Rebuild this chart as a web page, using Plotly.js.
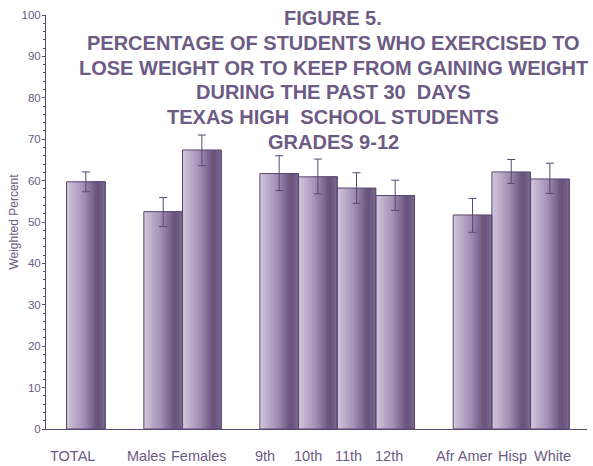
<!DOCTYPE html>
<html>
<head>
<meta charset="utf-8">
<script src="https://cdn.plot.ly/plotly-3.0.1.min.js"></script>
<style>html,body{margin:0;padding:0;background:#fff;}#chart{width:593px;height:466px;}</style>
</head>
<body>
<div id="chart"></div>
<script>
// ---- data ----
const categories = ["TOTAL", "Males", "Females", "9th", "10th", "11th", "12th", "Afr Amer", "Hisp", "White"];
const weightedPercent = [59.7, 52.5, 67.4, 61.7, 60.9, 58.2, 56.4, 51.7, 62.1, 60.4];
const errorPlus = [2.4, 3.4, 3.6, 4.3, 4.3, 3.7, 3.7, 4.0, 3.0, 3.8];
const errorMinus = [2.4, 3.6, 3.8, 4.1, 4.1, 3.7, 3.6, 4.2, 2.8, 3.5];
const titleLines = [
  "FIGURE 5.",
  "PERCENTAGE OF STUDENTS WHO EXERCISED TO",
  "LOSE WEIGHT OR TO KEEP FROM GAINING WEIGHT",
  "DURING THE PAST 30  DAYS",
  "TEXAS HIGH  SCHOOL STUDENTS",
  "GRADES 9-12"
];
const yAxisTitle = "Weighted Percent";

// ---- styling ----
const W = 593, H = 466;
const M = { l: 46, r: 6, t: 15, b: 37 };
const ink = "#6c5b84";
const edge = "#5a4870";
const FONT = "Liberation Sans, Arial, sans-serif";
const stops = [[0, [210, 199, 220]], [0.45, [162, 142, 180]], [0.8, [100, 80, 122]], [1, [124, 106, 144]]];
function shade(t) {
  for (let k = 1; k < stops.length; k++) {
    if (t <= stops[k][0]) {
      const a = stops[k - 1], b = stops[k];
      const f = (t - a[0]) / (b[0] - a[0]);
      const c = a[1].map((v, j) => Math.round(v + (b[1][j] - v) * f));
      return "rgb(" + c.join(",") + ")";
    }
  }
  return "rgb(" + stops[stops.length - 1][1].join(",") + ")";
}

// gap categories separate the groups on the category axis
const axisOrder = ["TOTAL", " ", "Males", "Females", "  ", "9th", "10th", "11th", "12th", "   ", "Afr Amer", "Hisp", "White"];
// horizontal nudge (px) of each category label, as typeset in the reference
const labelNudge = [-13, -17, -3, -14, -10, -8, -6, -8, 1, 3];

const N = 14;
const traces = [];
for (let i = 0; i < N; i++) {
  traces.push({
    type: "bar",
    x: categories,
    y: weightedPercent,
    width: (N - i) / N,
    offset: -0.5 + i / N,
    marker: { color: shade((i + 0.5) / N), line: { width: 0 } },
    hoverinfo: "skip",
    showlegend: false
  });
}
traces.push({
  type: "bar",
  x: categories,
  y: weightedPercent,
  width: 1,
  marker: { color: "rgba(0,0,0,0)", line: { color: edge, width: 1 } },
  error_y: { type: "data", symmetric: false, array: errorPlus, arrayminus: errorMinus, color: edge, thickness: 1, width: 4 },
  showlegend: false
});

// title lines as stacked headings (pixel layout of the reference)
const plotH = H - M.t - M.b, plotW = W - M.l - M.r;
const titleTop = 18, titleStep = 24.8, titleCenterX = 333;
const annotations = titleLines.map((line, i) => ({
  text: line,
  xref: "paper", yref: "paper",
  x: (titleCenterX - M.l) / plotW,
  y: (H - M.b - (titleTop + i * titleStep)) / plotH,
  xanchor: "center", yanchor: "middle",
  showarrow: false,
  font: { family: FONT, size: 20, color: ink, weight: 700 }
}));
// category labels under the axis
categories.forEach((c, i) => {
  annotations.push({
    text: c,
    xref: "x", yref: "paper",
    x: c, y: 0,
    xanchor: "center", yanchor: "middle",
    xshift: labelNudge[i], yshift: -27,
    showarrow: false,
    font: { family: FONT, size: 14.5, color: ink }
  });
});

const layout = {
  width: W,
  height: H,
  margin: M,
  paper_bgcolor: "#ffffff",
  plot_bgcolor: "#ffffff",
  barmode: "overlay",
  font: { family: FONT, color: ink },
  annotations: annotations,
  xaxis: {
    type: "category",
    categoryorder: "array",
    categoryarray: axisOrder,
    range: [-1.03, 12.96],
    showline: true, linecolor: edge, linewidth: 1,
    ticks: "", showgrid: false, zeroline: false,
    showticklabels: false,
    fixedrange: true
  },
  yaxis: {
    range: [0, 100],
    dtick: 10,
    showline: true, linecolor: edge, linewidth: 1,
    ticks: "outside", ticklen: 3, tickcolor: edge, tickwidth: 1,
    minor: { dtick: 2, ticks: "outside", ticklen: 2, tickcolor: edge, tickwidth: 1 },
    showgrid: false, zeroline: false,
    tickfont: { size: 11.5, color: ink },
    ticklabelstandoff: -1,
    title: { text: yAxisTitle, font: { size: 12, color: ink }, standoff: 0 },
    automargin: true,
    fixedrange: true
  }
};

Plotly.newPlot("chart", traces, layout, { displayModeBar: false, staticPlot: true });
</script>
</body>
</html>
